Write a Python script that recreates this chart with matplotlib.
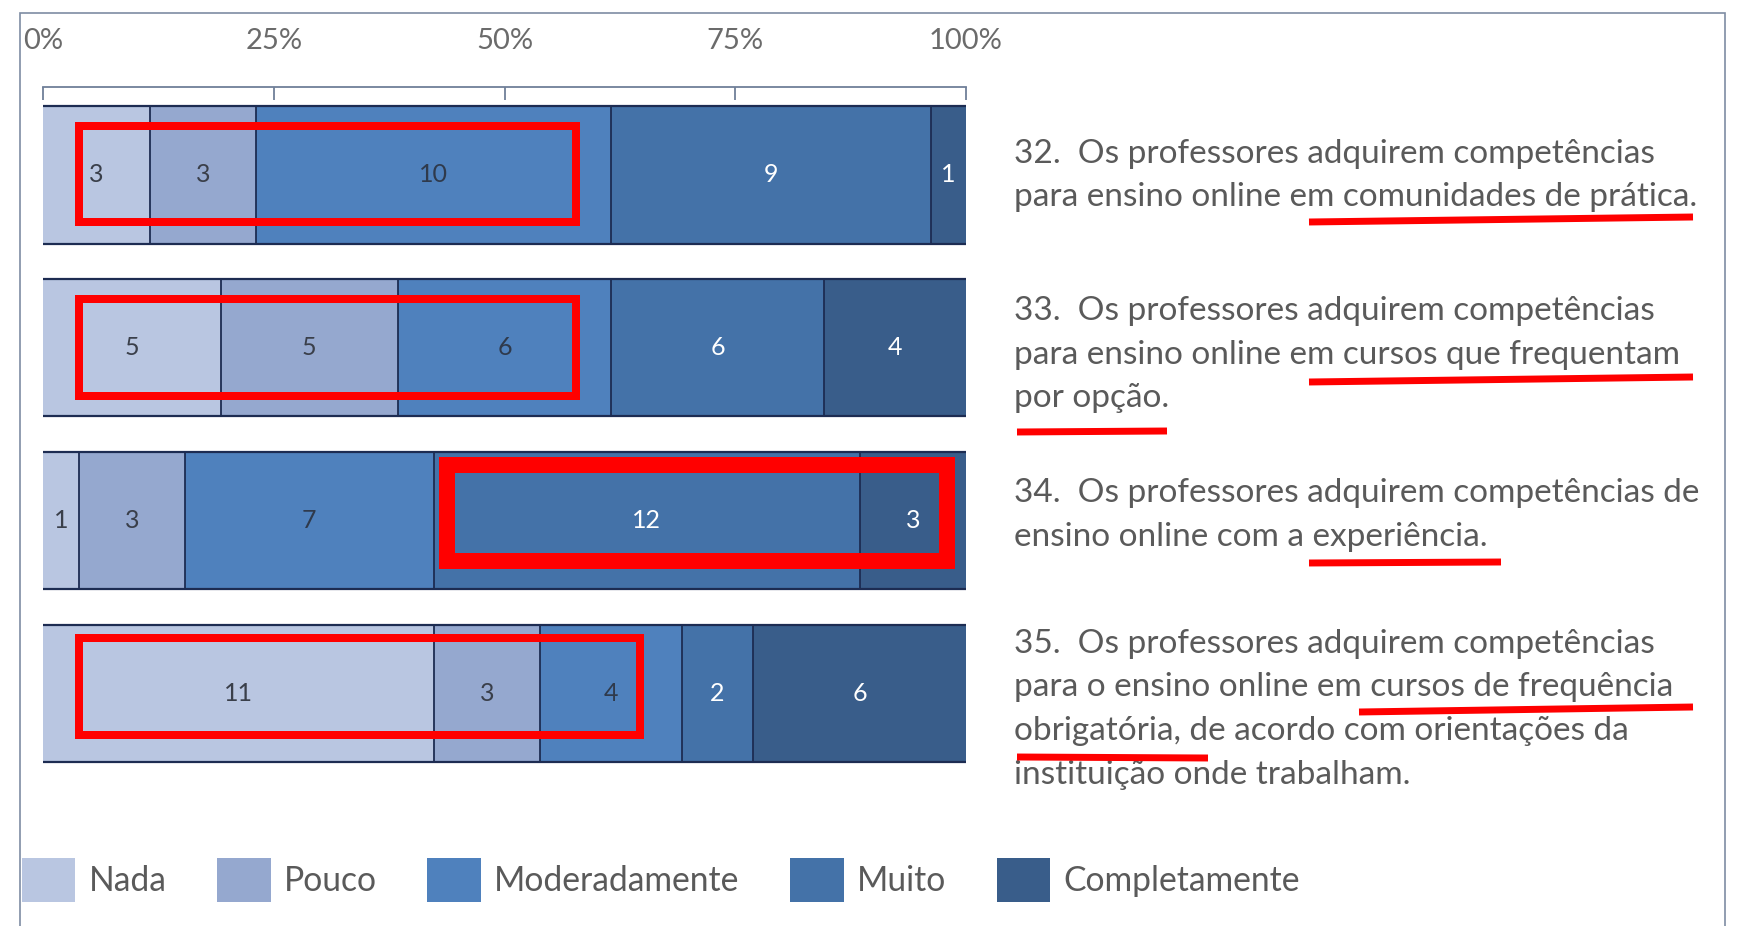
import matplotlib
matplotlib.use("Agg")
import matplotlib.pyplot as plt
import numpy as np
from matplotlib import font_manager
from matplotlib.patches import Rectangle
from matplotlib.lines import Line2D

# --- data -------------------------------------------------------------
categories = ["Nada", "Pouco", "Moderadamente", "Muito", "Completamente"]
items = ["32", "33", "34", "35"]
nada = [3, 5, 1, 11]
pouco = [3, 5, 3, 3]
moderadamente = [10, 6, 7, 4]
muito = [9, 6, 12, 2]
completamente = [1, 4, 3, 6]
pct_ticks = [0, 25, 50, 75, 100]
pct_labels = ["0%", "25%", "50%", "75%", "100%"]

descriptions = [
    ["32.  Os professores adquirem competências",
     "para ensino online em comunidades de prática."],
    ["33.  Os professores adquirem competências",
     "para ensino online em cursos que frequentam",
     "por opção."],
    ["34.  Os professores adquirem competências de",
     "ensino online com a experiência."],
    ["35.  Os professores adquirem competências",
     "para o ensino online em cursos de frequência",
     "obrigatória, de acordo com orientações da",
     "instituição onde trabalham."],
]

colors = ["#b9c6e1", "#95a8cf", "#4f81bd", "#4472a8", "#395d8a"]
label_colors = ["#3a3f4a", "#3a3f4a", "#2f3a4c", "white", "white"]

installed = {f.name for f in font_manager.fontManager.ttflist}
narrow = ["Liberation Sans Narrow", "Lato"] if "Liberation Sans Narrow" in installed else ["Lato"]
humanist = ["Lato", "DejaVu Sans"]

W, H = 1741, 926
fig = plt.figure(figsize=(W / 100, H / 100), dpi=100)
fig.patch.set_facecolor("white")


def fx(x):
    return x / W


def fy(y):
    return 1 - y / H


# outer frame
fig.patches.append(Rectangle((fx(20), fy(960)), fx(1725) - fx(20), (960 - 13) / H,
                             transform=fig.transFigure, fill=False,
                             edgecolor="#7e8ca3", linewidth=1.2))

ax = fig.add_axes([fx(43), fy(780), fx(966) - fx(43), (780 - 87) / H])

series = np.array([nada, pouco, moderadamente, muito, completamente], dtype=float)
totals = series.sum(axis=0)
pct = series / totals * 100
ypos = np.arange(len(items))
bar_h = 0.793

handles = []
left = np.zeros(len(items))
for k, cat in enumerate(categories):
    b = ax.barh(ypos, pct[k], left=left, height=bar_h, color=colors[k],
                linewidth=0, label=cat)
    handles.append(b)
    for i in range(len(items)):
        ax.text(left[i] + pct[k][i] / 2, ypos[i], f"{int(series[k][i])}",
                ha="center", va="center", fontsize=18, family=narrow,
                color=label_colors[k])
    left = left + pct[k]

# segment separators and bar edges
cum = np.cumsum(pct, axis=0)
for i in range(len(items)):
    y0, y1 = ypos[i] - bar_h / 2, ypos[i] + bar_h / 2
    ax.vlines(cum[:-1, i], y0, y1, color="#1d2c52", linewidth=1.3)
    ax.hlines([y0, y1], 0, 100, color="#1d2c52", linewidth=1.6)

ax.set_xlim(0, 100)
ax.set_ylim(3.5, -0.509)
ax.set_yticks([])
for s in ("left", "right", "bottom"):
    ax.spines[s].set_visible(False)
ax.spines["top"].set_color("#6f7f99")
ax.spines["top"].set_linewidth(1.3)
ax.xaxis.tick_top()
ax.set_xticks(pct_ticks)
ax.set_xticklabels(pct_labels, family=narrow, fontsize=21, color="#6b6b6b")
ax.tick_params(axis="x", direction="in", length=9, width=1.3, color="#6f7f99", pad=24)
ax.set_facecolor("none")

# descriptions to the right
first_base = [163, 320, 502, 653]
for lines, base in zip(descriptions, first_base):
    for j, line in enumerate(lines):
        fig.text(fx(1014), fy(base + j * 43.5), line, ha="left", va="baseline",
                 fontsize=24, family=humanist, color="#5a5a5a")

# legend
fig.legend(handles, categories, loc="center left", bbox_to_anchor=(fx(22), fy(880)),
           bbox_transform=fig.transFigure, ncol=5, frameon=False,
           prop={"family": humanist, "size": 24.2},
           handlelength=1.59, handleheight=1.66, handletextpad=0.4,
           columnspacing=1.5, borderpad=0, borderaxespad=0, labelcolor="#5a5a5a")

# red highlight boxes (overlay annotations, in pixels: x0, y0, x1, y1, width)
boxes = [(79, 126, 576, 222, 8), (79, 299, 576, 396, 8),
         (447, 465, 947, 561, 16), (79, 638, 640, 735, 8)]
for x0, y0, x1, y1, w in boxes:
    fig.patches.append(Rectangle((fx(x0), fy(y1)), fx(x1) - fx(x0), (y1 - y0) / H,
                                 transform=fig.transFigure, fill=False,
                                 edgecolor="#ff0000", linewidth=w * 0.72, zorder=10))

# red underlines
unders = [(1309, 222, 1693, 217), (1309, 382, 1693, 377), (1017, 432, 1167, 431),
          (1309, 563, 1501, 562), (1359, 712, 1693, 707), (1017, 757, 1208, 758)]
for x0, y0, x1, y1 in unders:
    fig.lines.append(Line2D([fx(x0), fx(x1)], [fy(y0), fy(y1)], transform=fig.transFigure,
                            color="#ff0000", linewidth=5, solid_capstyle="butt", zorder=10))

fig.savefig("out.png", dpi=100)
